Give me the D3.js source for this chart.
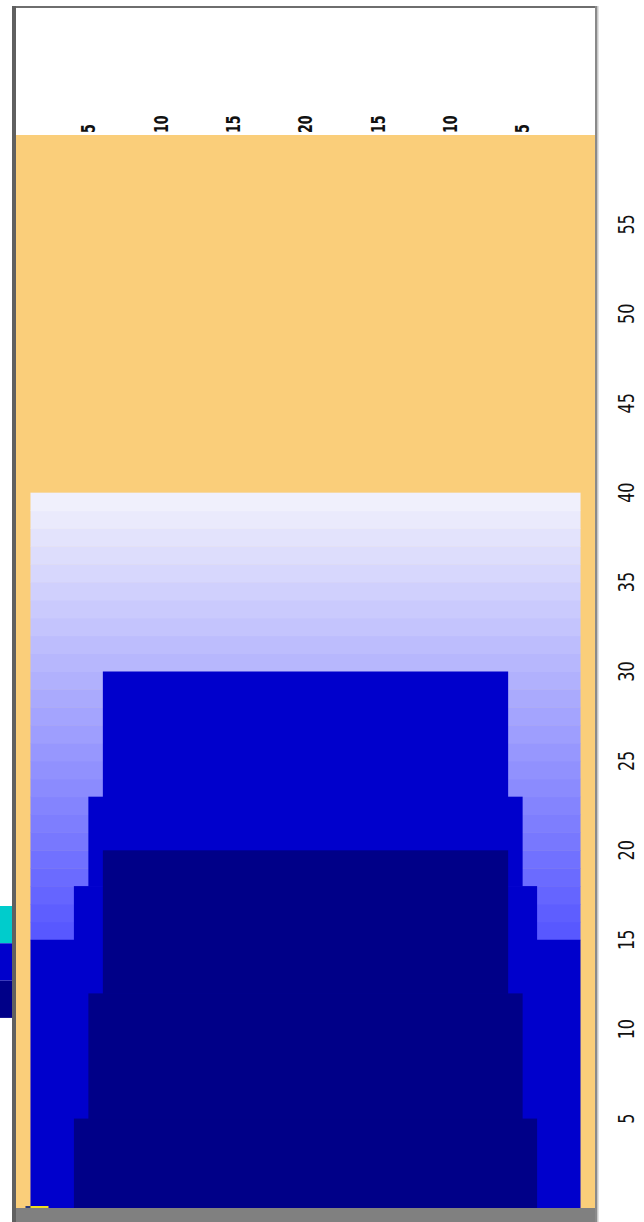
<!DOCTYPE html>
<html>
<head>
<meta charset="utf-8">
<script src="https://cdn.jsdelivr.net/npm/d3@7"></script>
<style>
html,body{margin:0;padding:0;background:#fff;}
svg{display:block;}
</style>
</head>
<body>
<script>
// ---- data ----
const xTickPos = [5, 10, 15, 20, 25, 30, 35];
const xTickLabels = ["5", "10", "15", "20", "15", "10", "5"];
const yTicks = [5, 10, 15, 20, 25, 30, 35, 40, 45, 50, 55];
const gradientRows = [15,16,17,18,19,20,21,22,23,24,25,26,27,28,29,30,31,32,33,34,35,36,37,38,39];
const gradientInset = 1;
const blueBottoms = [0, 15, 18, 23];
const blueTops    = [15, 18, 23, 30];
const blueInsets  = [1, 4, 5, 6];
const navyBottoms = [0, 5, 12];
const navyTops    = [5, 12, 20];
const navyInsets  = [4, 5, 6];
const legendColors = ["#00cccc", "#0000cc", "#000088"];

const W = 644, H = 1222;
const svg = d3.select("body").append("svg").attr("width", W).attr("height", H);

const x = d3.scaleLinear().domain([0, 40]).range([16, 595]);
const y = d3.scaleLinear().domain([0, 60]).range([1208, 135]);

// frame
svg.append("rect").attr("x", 12).attr("y", 6).attr("width", 586).attr("height", 1216).attr("fill", "#ffffff");
// orange plot area
svg.append("rect").attr("x", x(0)).attr("y", y(60)).attr("width", x(40) - x(0)).attr("height", y(0) - y(60)).attr("fill", "#face7a");

// gradient rows
const gcol = d3.scaleLinear().domain([39, 15]).range(["#f0f0fc", "#5858ff"]).interpolate(d3.interpolateRgb);
svg.append("g").selectAll("rect").data(gradientRows).join("rect")
  .attr("x", x(gradientInset))
  .attr("width", x(40 - gradientInset) - x(gradientInset))
  .attr("y", d => y(d + 1))
  .attr("height", d => y(d) - y(d + 1) + 0.5)
  .attr("fill", d => gcol(d));

// blue steps
svg.append("g").selectAll("rect").data(blueBottoms).join("rect")
  .attr("x", (d, i) => x(blueInsets[i]))
  .attr("width", (d, i) => x(40 - blueInsets[i]) - x(blueInsets[i]))
  .attr("y", (d, i) => y(blueTops[i]))
  .attr("height", (d, i) => y(d) - y(blueTops[i]) + 0.5)
  .attr("fill", "#0000cc");

// navy steps
svg.append("g").selectAll("rect").data(navyBottoms).join("rect")
  .attr("x", (d, i) => x(navyInsets[i]))
  .attr("width", (d, i) => x(40 - navyInsets[i]) - x(navyInsets[i]))
  .attr("y", (d, i) => y(navyTops[i]))
  .attr("height", (d, i) => y(d) - y(navyTops[i]) + 0.5)
  .attr("fill", "#000088");

// small yellow marker at bottom left
svg.append("rect").attr("x", x(1) - 5).attr("y", y(0) - 2).attr("width", 6).attr("height", 2).attr("fill", "#2a3a7a");
svg.append("rect").attr("x", x(1)).attr("y", y(0) - 2).attr("width", 18).attr("height", 2).attr("fill", "#f0e020");

// bottom gray bar
svg.append("rect").attr("x", 12).attr("y", y(0)).attr("width", 585).attr("height", H - y(0)).attr("fill", "#808080");

// borders
svg.append("rect").attr("x", 12).attr("y", 6).attr("width", 585).attr("height", 2).attr("fill", "#6e6e6e");
svg.append("rect").attr("x", 12).attr("y", 6).attr("width", 4).attr("height", H - 6).attr("fill", "#606060");
svg.append("rect").attr("x", 595).attr("y", 6).attr("width", 2).attr("height", H - 6).attr("fill", "#8a8a8a");
svg.append("rect").attr("x", 597).attr("y", 6).attr("width", 1.5).attr("height", H - 6).attr("fill", "#c8c8c8");

// legend swatches at left edge
svg.append("g").selectAll("rect").data(legendColors).join("rect")
  .attr("x", 0).attr("width", 12)
  .attr("y", (d, i) => 906 + i * 37.3)
  .attr("height", 37.3)
  .attr("fill", d => d);

const font = "'DejaVu Sans Condensed', 'Liberation Sans', sans-serif";

// top tick labels (rotated, narrow)
svg.append("g").selectAll("text").data(xTickPos).join("text")
  .attr("transform", d => `translate(${x(d)},133) rotate(-90) scale(0.74,1)`)
  .attr("text-anchor", "start")
  .attr("dy", "0.36em")
  .attr("font-family", font)
  .attr("font-weight", "bold")
  .attr("font-size", 19)
  .attr("fill", "#111")
  .text((d, i) => xTickLabels[i]);

// right tick labels (rotated, narrow)
svg.append("g").selectAll("text").data(yTicks).join("text")
  .attr("transform", d => `translate(626,${y(d)}) rotate(-90) scale(0.85,1)`)
  .attr("text-anchor", "middle")
  .attr("dy", "0.36em")
  .attr("font-family", font)
  .attr("font-size", 21)
  .attr("fill", "#111")
  .text(d => d);
</script>
</body>
</html>
